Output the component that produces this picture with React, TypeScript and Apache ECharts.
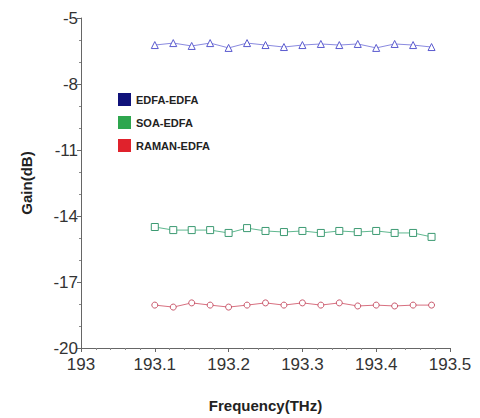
import React, { useEffect, useRef } from "react";
import * as echarts from "echarts";

const frequencies = [193.1, 193.125, 193.15, 193.175, 193.2, 193.225, 193.25, 193.275, 193.3, 193.325, 193.35, 193.375, 193.4, 193.425, 193.45, 193.475];
const edfaEdfa = [-6.23, -6.14, -6.27, -6.14, -6.36, -6.14, -6.23, -6.32, -6.23, -6.18, -6.23, -6.18, -6.36, -6.18, -6.23, -6.32];
const soaEdfa = [-14.5, -14.64, -14.64, -14.64, -14.77, -14.55, -14.68, -14.73, -14.68, -14.77, -14.68, -14.73, -14.68, -14.77, -14.77, -14.95];
const ramanEdfa = [-18.05, -18.14, -17.95, -18.05, -18.14, -18.05, -17.95, -18.05, -17.95, -18.05, -17.95, -18.09, -18.05, -18.09, -18.05, -18.05];
const seriesNames = ["EDFA-EDFA", "SOA-EDFA", "RAMAN-EDFA"];
const legendColors = ["#10127a", "#2ea64e", "#e0222c"];

export default function App() {
  const ref = useRef<HTMLDivElement>(null);
  useEffect(() => {
    if (!ref.current) return;
    const chart = echarts.init(ref.current, null, { renderer: "svg" });
    const mk = (vals: number[]) => frequencies.map((f, i) => [f, vals[i]]);
    const axisText = { color: "#333", fontSize: 17, fontFamily: "Liberation Sans, Arial, sans-serif" };
    chart.setOption({
      animation: false,
      backgroundColor: "#fff",
      grid: { left: 81, right: 30, top: 18, bottom: 70 },
      legend: {
        orient: "vertical",
        left: 113,
        top: 88,
        itemWidth: 13,
        itemHeight: 13,
        itemGap: 10,
        icon: "rect",
        itemStyle: { borderWidth: 0 },
        textStyle: { fontSize: 11, fontWeight: "bold", color: "#222", fontFamily: "Liberation Sans, Arial, sans-serif" },
        data: seriesNames.map((n, i) => ({ name: n, itemStyle: { color: legendColors[i], borderWidth: 0 } })),
      },
      xAxis: {
        type: "value",
        min: 193,
        max: 193.5,
        interval: 0.1,
        name: "Frequency(THz)",
        nameLocation: "middle",
        nameGap: 50,
        nameTextStyle: { fontSize: 15, fontWeight: "bold", color: "#222", fontFamily: "Liberation Sans, Arial, sans-serif" },
        axisLine: { lineStyle: { color: "#666", width: 1 } },
        axisTick: { show: true, length: 4, lineStyle: { color: "#666" } },
        minorTick: { show: true, splitNumber: 5, length: 2, lineStyle: { color: "#888" } },
        axisLabel: { ...axisText, margin: 8 },
        splitLine: { show: false },
      },
      yAxis: {
        type: "value",
        min: -20,
        max: -5,
        interval: 3,
        name: "Gain(dB)",
        nameLocation: "middle",
        nameGap: 47,
        nameTextStyle: { fontSize: 15, fontWeight: "bold", color: "#222", fontFamily: "Liberation Sans, Arial, sans-serif" },
        axisLine: { show: true, lineStyle: { color: "#666", width: 1 } },
        axisTick: { show: true, length: 4, lineStyle: { color: "#666" } },
        minorTick: { show: true, splitNumber: 3, length: 2, lineStyle: { color: "#888" } },
        axisLabel: { ...axisText, margin: 3, padding: [0, 0, 4, 0] },
        splitLine: { show: false },
      },
      series: [
        {
          name: seriesNames[0],
          type: "line",
          data: mk(edfaEdfa),
          symbol: "triangle",
          symbolSize: 7,
          itemStyle: { color: "#fff", borderColor: "#5a5acf", borderWidth: 1 },
          lineStyle: { color: "#8a8ae0", width: 1 },
        },
        {
          name: seriesNames[1],
          type: "line",
          data: mk(soaEdfa),
          symbol: "rect",
          symbolSize: 7,
          itemStyle: { color: "#fff", borderColor: "#3c9a72", borderWidth: 1 },
          lineStyle: { color: "#5fb88f", width: 1 },
        },
        {
          name: seriesNames[2],
          type: "line",
          data: mk(ramanEdfa),
          symbol: "circle",
          symbolSize: 6,
          itemStyle: { color: "#fff", borderColor: "#c8566a", borderWidth: 1 },
          lineStyle: { color: "#d87080", width: 1 },
        },
      ],
    });
    return () => chart.dispose();
  }, []);
  return <div ref={ref} style={{ position: "fixed", left: 0, top: 0, width: 480, height: 418 }} />;
}
